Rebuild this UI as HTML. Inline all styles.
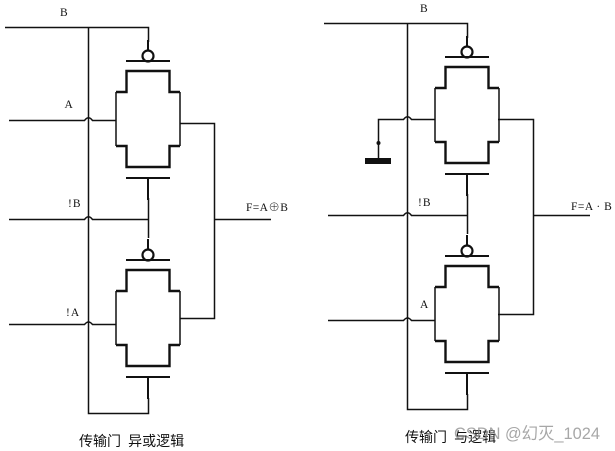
<!DOCTYPE html>
<html>
<head>
<meta charset="utf-8">
<style>
html,body{margin:0;padding:0;background:#fff;width:615px;height:451px;overflow:hidden}
svg{display:block}
.t{font-family:"Liberation Serif","Noto Serif CJK SC",serif;font-size:11.500px;fill:#111}
.c{font-family:"WenQuanYi Zen Hei","Noto Sans CJK SC",sans-serif;font-size:14px;fill:#111;word-spacing:4px}
.w{font-family:"Liberation Sans","Noto Sans CJK SC",sans-serif;font-size:16.400px;fill:#8a8a8a;fill-opacity:.75}
</style>
</head>
<body>
<svg width="615" height="451" viewBox="0 0 615 451" xmlns="http://www.w3.org/2000/svg">
<defs>
<g id="p" fill="none" stroke="#111">
  <path d="M0 -7V3" stroke-width="2"/>
  <circle cx="0" cy="9" r="5.500" stroke-width="2.200"/>
  <path d="M-22 14H22" stroke-width="2"/>
  <path d="M-32 45V99M32 45V99" stroke-width="1.500"/>
  <path d="M-32 45H-21.500V24H21.500V45H32M-32 99H-21.500V120H21.500V99H32" stroke-width="2.400"/>
  <path d="M-22 131H22" stroke-width="2"/>
  <path d="M0 131V153" stroke-width="2"/>
</g>
</defs>

<!-- left circuit -->
<g fill="none" stroke="#111" stroke-width="1.500">
  <path d="M5 27.500H148.500V42"/>
  <path d="M88.500 27.500V413.500H148.500V398"/>
  <path d="M9 120.500H84.500q4 -5.500 8 0H116"/>
  <path d="M9 219.500H84.500q4 -5.500 8 0H148.500V238M148.500 198V219.500"/>
  <path d="M9 324.500H84.500q4 -5 8 0H116"/>
  <path d="M180 123.500H214.500V318.500H180"/>
  <path d="M215 219.500H271"/>
</g>
<use href="#p" x="148" y="47"/>
<use href="#p" x="148" y="246"/>

<!-- right circuit -->
<g fill="none" stroke="#111" stroke-width="1.500">
  <path d="M324 23.500H467.500V38"/>
  <path d="M407.500 23.500V409.500H467.500V394"/>
  <path d="M378.500 158V119.500H403.500q4 -5.500 8 0H435"/>
  <path d="M328 215.500H403.500q4 -5.500 8 0H467.500V234M467.500 194V215.500"/>
  <path d="M328 320.500H403.500q4 -5 8 0H435"/>
  <path d="M498 119.500H533.500V314.500H498"/>
  <path d="M534 215.500H590"/>
</g>
<use href="#p" x="467" y="43"/>
<use href="#p" x="467" y="242"/>
<circle cx="378.500" cy="143" r="2" fill="#111"/>
<rect x="365" y="158" width="26" height="6" fill="#111"/>

<!-- labels -->
<text class="t" x="60" y="16">B</text>
<text class="t" x="64.500" y="108">A</text>
<text class="t" x="68" y="207" letter-spacing="1">!B</text>
<text class="t" x="246" y="211" letter-spacing=".4">F=A⊕B</text>
<text class="t" x="66" y="316" letter-spacing="1">!A</text>
<text class="t" x="420" y="12">B</text>
<text class="t" x="418" y="206" letter-spacing="1">!B</text>
<text class="t" x="571" y="210" letter-spacing=".5">F=A · B</text>
<text class="t" x="420" y="308">A</text>

<text class="c" x="79" y="446">传输门 异或逻辑</text>
<text class="c" x="405" y="442">传输门 与逻辑</text>
<text class="w" x="454" y="439">CSDN @幻灭_1024</text>
</svg>
</body>
</html>
